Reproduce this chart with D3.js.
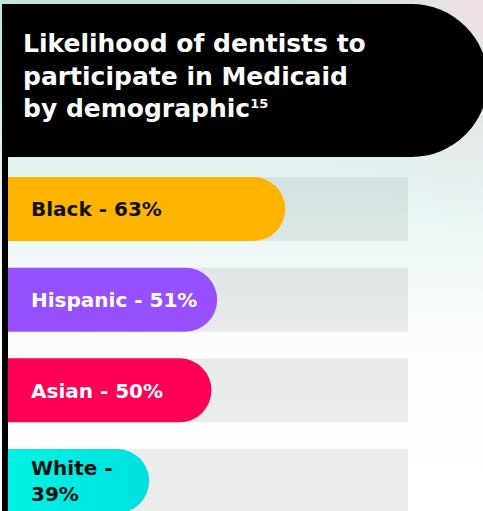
<!DOCTYPE html>
<html>
<head>
<meta charset="utf-8">
<script src="https://cdn.jsdelivr.net/npm/d3@7"></script>
<style>
  html, body { margin: 0; padding: 0; background: #fff; overflow: hidden; }
  svg { display: block; }
</style>
</head>
<body>
<div id="chart"></div>
<script>
// data
var groups = ["Black", "Hispanic", "Asian", "White"];
var shares = [63, 51, 50, 39];
var barColors = ["#ffb400", "#9650ff", "#ff0055", "url(#cyanGrad)"];
var labelColors = ["#111111", "#ffffff", "#ffffff", "#111111"];
var titleLines = ["Likelihood of dentists to", "participate in Medicaid", "by demographic"];
var footnote = "15";

var w = 483, h = 511;
var font = "'DejaVu Sans', sans-serif";

var svg = d3.select("#chart").append("svg")
    .attr("width", w)
    .attr("height", h);

var defs = svg.append("defs");

var bg = defs.append("linearGradient").attr("id", "bgGrad")
    .attr("x1", 0).attr("y1", 0).attr("x2", 0).attr("y2", 1);
bg.append("stop").attr("offset", "0%").attr("stop-color", "#c3e3dc");
bg.append("stop").attr("offset", "30%").attr("stop-color", "#e1f2f1");
bg.append("stop").attr("offset", "65%").attr("stop-color", "#fbfdfd");
bg.append("stop").attr("offset", "100%").attr("stop-color", "#ffffff");

var pink = defs.append("radialGradient").attr("id", "pinkGrad")
    .attr("cx", 1).attr("cy", 0).attr("r", 0.45);
pink.append("stop").attr("offset", "0%").attr("stop-color", "#f1e2e6").attr("stop-opacity", 1);
pink.append("stop").attr("offset", "100%").attr("stop-color", "#f1e2e6").attr("stop-opacity", 0);

var cyan = defs.append("linearGradient").attr("id", "cyanGrad")
    .attr("x1", 0).attr("y1", 0).attr("x2", 1).attr("y2", 0);
cyan.append("stop").attr("offset", "0%").attr("stop-color", "#00f3e4");
cyan.append("stop").attr("offset", "100%").attr("stop-color", "#00e0de");

svg.append("rect").attr("width", w).attr("height", h).attr("fill", "url(#bgGrad)");
svg.append("rect").attr("width", w).attr("height", h).attr("fill", "url(#pinkGrad)");

// scales
var y = d3.scaleBand()
    .domain(groups)
    .range([177, 513])
    .paddingInner(0.294)
    .paddingOuter(0);

var x = d3.scaleLinear()
    .domain([0, 100])
    .range([-72, 495]);

var left = 8, trackEnd = 408;

// header block
var hTop = 4, hBot = 157, hLeft = 2, hRight = 488, r = (hBot - hTop) / 2;
svg.append("path")
    .attr("d", "M" + hLeft + "," + hTop +
        "H" + (hRight - r) +
        "A" + r + "," + r + " 0 0 1 " + (hRight - r) + "," + hBot +
        "H" + hLeft + "Z")
    .attr("fill", "#000");

// left strip
svg.append("rect")
    .attr("x", hLeft).attr("y", hTop)
    .attr("width", left - hLeft).attr("height", h)
    .attr("fill", "#000");

var title = svg.append("text")
    .attr("font-family", font)
    .attr("font-weight", "bold")
    .attr("font-size", 25)
    .attr("fill", "#fff");

titleLines.forEach(function(t, i){
    title.append("tspan")
        .attr("x", 23)
        .attr("y", 52 + i * 32.5)
        .text(t);
    if (i == titleLines.length - 1) {
        title.append("tspan")
            .attr("font-size", 13)
            .attr("dy", -9)
            .text(footnote);
    }
});

// tracks
var rows = svg.selectAll("g.row")
    .data(groups)
    .enter()
    .append("g")
    .attr("class", "row");

rows.append("rect")
    .attr("x", left)
    .attr("y", function(d){ return y(d); })
    .attr("width", trackEnd - left)
    .attr("height", y.bandwidth())
    .attr("fill", "#000")
    .attr("fill-opacity", 0.07);

// bars with a round right end
rows.append("path")
    .attr("d", function(d, i){
        var bh = y.bandwidth(), rr = bh / 2;
        var x1 = x(shares[i]);
        var top = y(d);
        return "M" + left + "," + top +
            "H" + (x1 - rr) +
            "A" + rr + "," + rr + " 0 0 1 " + (x1 - rr) + "," + (top + bh) +
            "H" + left + "Z";
    })
    .attr("fill", function(d, i){ return barColors[i]; });

// labels, wrapped when the bar is too short
rows.each(function(d, i){
    var g = d3.select(this);
    var cy = y(d) + y.bandwidth() / 2;
    var label = d + " - " + shares[i] + "%";
    var t = g.append("text")
        .attr("font-family", font)
        .attr("font-weight", "bold")
        .attr("font-size", 20)
        .attr("fill", labelColors[i])
        .attr("x", 31)
        .attr("y", cy)
        .attr("dy", "0.36em")
        .text(label);
    var room = x(shares[i]) - 31 - 12;
    if (t.node().getComputedTextLength() > room) {
        t.text(null);
        var parts = [d + " -", shares[i] + "%"];
        parts.forEach(function(p, k){
            t.append("tspan")
                .attr("x", 31)
                .attr("y", cy + (k - 0.5) * 26)
                .attr("dy", "0.36em")
                .text(p);
        });
    }
});
</script>
</body>
</html>
